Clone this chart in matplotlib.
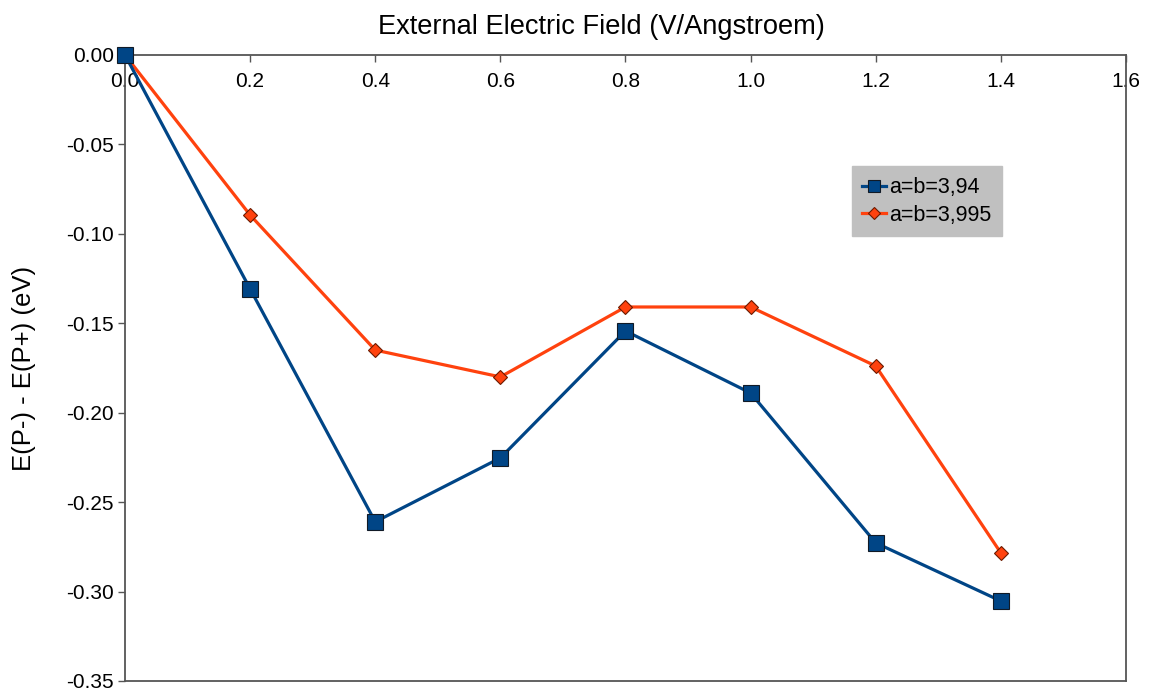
import matplotlib.pyplot as plt
import numpy as np

plt.rcParams['font.family'] = ['Liberation Sans', 'DejaVu Sans']

field = [0.0, 0.2, 0.4, 0.6, 0.8, 1.0, 1.2, 1.4]
de_394 = [0.0, -0.1308, -0.2610, -0.2253, -0.1543, -0.1890, -0.2728, -0.3053]
de_3995 = [0.0, -0.0895, -0.1650, -0.1800, -0.1409, -0.1409, -0.1739, -0.2784]
labels = ['a=b=3,94', 'a=b=3,995']

xticks = np.arange(0, 1.61, 0.2)
yticks = np.round(np.arange(-0.35, 0.001, 0.05), 2) + 0.0


def plot():
    fig = plt.figure(figsize=(11.5, 6.96), dpi=100)
    ax = fig.add_axes([0.1087, 0.0216, 0.8704, 0.8994])

    ax.plot(field, de_3995, color='#ff420e', linewidth=2.3, marker='D',
            markersize=7.5, markeredgecolor='#6b1a00', markeredgewidth=0.8,
            label=labels[1], zorder=3, clip_on=False)
    ax.plot(field, de_394, color='#004586', linewidth=2.3, marker='s',
            markersize=11, markeredgecolor='#111a26', markeredgewidth=0.8,
            label=labels[0], zorder=4, clip_on=False)

    ax.set_xlim(0, 1.6)
    ax.set_ylim(-0.35, 0)
    ax.set_xticks(xticks)
    ax.set_xticklabels(['%.1f' % t for t in xticks])
    ax.set_yticks(yticks)
    ax.set_yticklabels(['%.2f' % abs(t) if t == 0 else '%.2f' % t for t in yticks])

    ax.xaxis.tick_top()
    ax.xaxis.set_label_position('top')
    ax.tick_params(axis='x', direction='in', length=5, width=1, color='#555555',
                   labelsize=15, pad=-12)
    ax.tick_params(axis='y', direction='out', length=5, width=1, color='#555555',
                   labelsize=15, pad=3)
    for s in ax.spines.values():
        s.set_color('#555555')
        s.set_linewidth(1.3)
    for lab in ax.get_xticklabels():
        lab.set_verticalalignment('top')

    ax.set_xlabel('External Electric Field (V/Angstroem)', fontsize=19.6,
                  labelpad=15, x=0.4755)
    ax.set_ylabel('E(P-) - E(P+) (eV)', fontsize=18.5, labelpad=22)

    h, l = ax.get_legend_handles_labels()
    leg = ax.legend(h[::-1], l[::-1], loc='upper left', bbox_to_anchor=(0.726, 0.822),
                    fontsize=15.5, frameon=True, fancybox=False, borderaxespad=0,
                    handlelength=1.1, handletextpad=0.15, labelspacing=0.3,
                    borderpad=0.5, markerscale=0.75)
    leg.get_frame().set_facecolor('#c0c0c0')
    leg.get_frame().set_edgecolor('#c0c0c0')
    leg.get_frame().set_alpha(1)

    fig.savefig('out.png', dpi=100)


if __name__ == '__main__':
    plot()
